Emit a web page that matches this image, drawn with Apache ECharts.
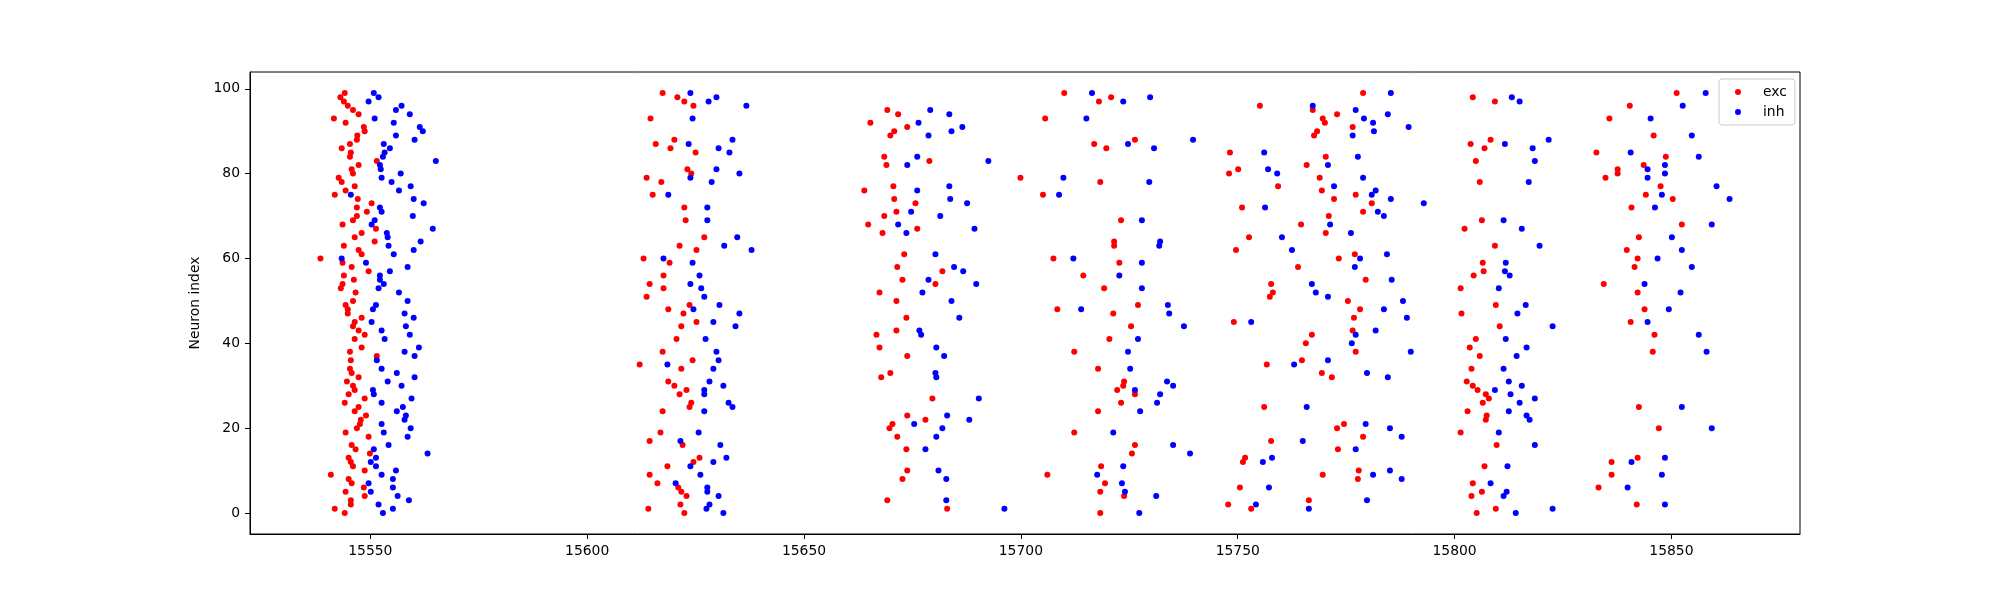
<!DOCTYPE html>
<html>
<head>
<meta charset="utf-8">
<title>raster</title>
<script src="https://cdn.jsdelivr.net/npm/echarts/dist/echarts.min.js"></script>
<style>
    html, body { margin: 0; padding: 0; background: #ffffff; }
    #raster { width: 2000px; height: 600px; }
</style>
</head>
<body>
<div id="raster"></div>
<script>
// spike times [t, neuron index], one pair of arrays per burst
var exc1 = [[15544.1,99],[15543.1,98],[15543.9,97],[15544.8,96],[15546.0,95],[15547.3,94],[15541.6,93],[15544.3,92],[15548.5,91],[15548.7,90],[15547.0,89],[15546.9,88],[15545.3,87],[15543.4,86],[15545.5,85],[15545.3,84],[15551.5,83],[15547.3,82],[15545.7,81],[15546.0,80],[15542.7,79],[15543.4,78],[15546.4,77],[15544.3,76],[15541.8,75],[15547.1,74],[15550.3,73],[15546.9,72],[15549.2,71],[15546.9,70],[15546.0,69],[15543.6,68],[15551.3,67],[15548.0,66],[15546.4,65],[15551.0,64],[15543.9,63],[15547.3,62],[15548.0,61],[15538.5,60],[15543.6,59],[15545.7,58],[15549.6,57],[15543.9,56],[15546.2,55],[15543.6,54],[15543.2,53],[15546.6,52],[15546.0,50],[15544.3,49],[15544.8,48],[15544.8,47],[15548.0,46],[15546.4,45],[15546.0,44],[15547.3,43],[15548.7,42],[15546.4,41],[15548.0,39],[15545.3,38],[15551.5,37],[15545.5,36],[15545.3,34],[15545.7,33],[15547.3,32],[15544.6,31],[15546.0,30],[15546.4,29],[15545.0,28],[15548.7,27],[15544.1,26],[15547.3,25],[15546.4,24],[15549.0,23],[15547.8,22],[15547.6,21],[15546.9,20],[15544.3,19],[15549.6,18],[15545.7,16],[15546.6,15],[15549.9,14],[15545.0,13],[15545.5,12],[15546.0,11],[15548.7,10],[15540.9,9],[15545.0,8],[15545.7,7],[15548.5,6],[15544.3,5],[15548.7,4],[15545.5,3],[15545.5,2],[15541.8,1],[15544.1,0]];
var inh1 = [[15550.8,99],[15551.9,98],[15549.6,97],[15557.2,96],[15555.9,95],[15559.1,94],[15551.0,93],[15555.4,92],[15561.4,91],[15562.1,90],[15555.9,89],[15560.2,88],[15553.1,87],[15554.5,86],[15553.3,85],[15552.9,84],[15565.1,83],[15552.2,82],[15552.4,81],[15557.0,80],[15552.6,79],[15554.9,78],[15559.3,77],[15556.6,76],[15545.5,75],[15560.0,74],[15562.3,73],[15552.2,72],[15552.6,71],[15559.8,70],[15551.0,69],[15550.3,68],[15564.4,67],[15553.8,66],[15554.0,65],[15561.6,64],[15554.2,63],[15560.0,62],[15555.4,61],[15543.4,60],[15549.0,59],[15558.6,58],[15554.5,57],[15552.2,56],[15552.2,55],[15553.1,54],[15551.9,53],[15556.6,52],[15558.6,50],[15551.3,49],[15550.6,48],[15557.9,47],[15560.0,46],[15550.3,45],[15558.2,44],[15552.6,43],[15559.1,42],[15553.3,41],[15561.2,39],[15557.9,38],[15560.2,37],[15551.5,36],[15552.6,34],[15556.1,33],[15560.2,32],[15554.0,31],[15557.2,30],[15550.6,29],[15550.8,28],[15559.5,27],[15552.6,26],[15557.5,25],[15556.1,24],[15558.2,23],[15557.9,22],[15552.6,21],[15559.3,20],[15553.1,19],[15558.6,18],[15554.2,16],[15550.8,15],[15563.2,14],[15551.3,13],[15550.1,12],[15551.3,11],[15555.9,10],[15552.6,9],[15555.2,8],[15549.6,7],[15555.2,6],[15550.1,5],[15556.3,4],[15558.9,3],[15551.9,2],[15555.2,1],[15552.9,0]];

var exc2 = [[15617.4,99],[15620.8,98],[15622.4,97],[15624.5,96],[15614.6,93],[15620.1,88],[15615.8,87],[15619.2,86],[15625.0,85],[15623.1,81],[15624.0,80],[15613.7,79],[15617.1,78],[15615.1,75],[15622.4,72],[15622.7,69],[15627.0,65],[15621.3,63],[15625.2,62],[15613.0,60],[15619.0,59],[15617.6,56],[15614.4,54],[15617.6,53],[15613.7,51],[15623.6,49],[15618.7,48],[15622.2,47],[15625.2,45],[15621.7,44],[15620.6,41],[15617.4,38],[15624.3,36],[15612.1,35],[15621.7,34],[15618.7,31],[15620.1,30],[15622.9,29],[15621.3,28],[15624.0,26],[15623.6,25],[15617.4,24],[15616.9,19],[15614.4,17],[15622.0,16],[15625.9,13],[15624.5,12],[15618.5,11],[15614.4,9],[15616.2,7],[15621.0,6],[15621.7,5],[15622.9,4],[15621.5,2],[15614.1,1],[15622.4,0]];
var inh2 = [[15623.8,99],[15629.8,98],[15628.0,97],[15636.7,96],[15624.3,93],[15633.5,88],[15623.4,87],[15630.3,86],[15632.8,85],[15629.8,81],[15635.1,80],[15623.8,79],[15628.7,78],[15618.7,75],[15627.7,72],[15627.7,69],[15634.6,65],[15631.6,63],[15637.9,62],[15617.6,60],[15624.3,59],[15625.9,56],[15623.8,54],[15626.3,53],[15627.0,51],[15630.5,49],[15624.5,48],[15635.1,47],[15629.1,45],[15634.2,44],[15627.3,41],[15629.8,38],[15630.3,36],[15618.5,35],[15629.1,34],[15628.2,31],[15631.4,30],[15627.0,29],[15627.0,28],[15632.6,26],[15633.5,25],[15627.0,24],[15625.7,19],[15621.5,17],[15630.7,16],[15632.1,13],[15629.1,12],[15623.8,11],[15626.1,9],[15620.4,7],[15627.7,6],[15627.7,5],[15630.3,4],[15628.2,2],[15627.5,1],[15631.4,0]];

var exc3 = [[15669.2,95],[15671.7,94],[15665.3,92],[15673.8,91],[15670.8,90],[15669.9,89],[15668.5,84],[15678.9,83],[15669.0,82],[15670.6,77],[15663.9,76],[15670.8,74],[15675.7,73],[15671.3,71],[15668.5,70],[15664.8,68],[15676.1,67],[15668.1,66],[15673.1,61],[15671.5,58],[15681.9,57],[15672.7,55],[15680.3,54],[15667.4,52],[15671.3,50],[15673.6,46],[15671.3,43],[15666.7,42],[15667.4,39],[15673.8,37],[15669.9,33],[15667.8,32],[15679.6,27],[15673.8,23],[15678.0,22],[15670.4,21],[15669.7,20],[15671.5,18],[15673.6,15],[15673.8,10],[15672.7,8],[15669.2,3],[15683.0,1]];
var inh3 = [[15679.1,95],[15683.5,94],[15676.4,92],[15686.5,91],[15684.0,90],[15678.7,89],[15676.1,84],[15692.5,83],[15673.8,82],[15683.5,77],[15676.1,76],[15683.7,74],[15687.6,73],[15674.7,71],[15681.4,70],[15671.7,68],[15689.3,67],[15673.6,66],[15680.3,61],[15684.6,58],[15686.7,57],[15678.7,55],[15689.7,54],[15677.3,52],[15684.0,50],[15685.8,46],[15676.6,43],[15677.0,42],[15680.5,39],[15682.3,37],[15680.3,33],[15680.5,32],[15690.3,27],[15683.0,23],[15688.1,22],[15675.4,21],[15681.9,20],[15680.5,18],[15678.0,15],[15681.0,10],[15682.8,8],[15682.8,3],[15696.2,1]];

var exc4 = [[15710.0,99],[15720.8,98],[15718.0,97],[15705.6,93],[15726.3,88],[15716.9,87],[15719.7,86],[15699.9,79],[15718.3,78],[15705.1,75],[15723.1,69],[15721.5,64],[15721.5,63],[15707.5,60],[15722.7,59],[15714.4,56],[15719.2,53],[15727.0,49],[15708.4,48],[15721.3,47],[15725.4,44],[15720.4,41],[15712.3,38],[15717.8,34],[15723.8,31],[15723.6,30],[15722.2,29],[15726.3,28],[15723.1,26],[15717.8,24],[15712.3,19],[15726.3,16],[15725.6,14],[15718.5,11],[15706.1,9],[15719.4,7],[15718.3,5],[15723.8,4],[15718.3,0]];
var inh4 = [[15716.4,99],[15729.8,98],[15723.6,97],[15715.1,93],[15739.7,88],[15724.7,87],[15730.7,86],[15709.8,79],[15729.6,78],[15708.8,75],[15727.9,69],[15732.1,64],[15731.9,63],[15712.1,60],[15727.9,59],[15722.7,56],[15727.9,53],[15733.9,49],[15713.9,48],[15734.2,47],[15737.6,44],[15727.0,41],[15724.7,38],[15725.2,34],[15733.7,31],[15735.1,30],[15726.3,29],[15732.1,28],[15731.4,26],[15727.5,24],[15721.3,19],[15735.1,16],[15739.0,14],[15723.6,11],[15717.6,9],[15723.3,7],[15724.0,5],[15731.2,4],[15727.3,0]];

var exc5 = [[15778.9,99],[15755.1,96],[15767.3,95],[15772.9,94],[15769.6,93],[15770.1,92],[15776.5,91],[15768.3,90],[15767.6,89],[15748.2,85],[15770.3,84],[15765.9,82],[15750.1,81],[15748.0,80],[15768.9,79],[15759.3,77],[15769.4,76],[15777.2,75],[15772.2,74],[15780.9,73],[15751.0,72],[15778.9,71],[15771.0,70],[15764.6,68],[15770.3,66],[15752.6,65],[15749.6,62],[15777.0,61],[15773.3,60],[15763.9,58],[15779.5,55],[15757.7,54],[15758.1,52],[15757.4,51],[15775.4,50],[15778.2,48],[15776.8,46],[15749.1,45],[15776.5,43],[15767.1,42],[15765.7,40],[15777.2,38],[15764.8,36],[15756.7,35],[15769.4,33],[15771.7,32],[15756.1,25],[15774.5,21],[15772.9,20],[15778.9,18],[15757.7,17],[15773.1,15],[15751.7,13],[15751.2,12],[15777.9,10],[15769.6,9],[15777.7,8],[15750.5,6],[15766.4,3],[15747.8,2],[15753.1,1]];
var inh5 = [[15785.3,99],[15767.3,96],[15777.2,95],[15784.6,94],[15779.1,93],[15781.2,92],[15789.4,91],[15781.4,90],[15776.5,89],[15756.1,85],[15777.7,84],[15770.8,82],[15757.0,81],[15759.1,80],[15778.9,79],[15772.2,77],[15781.8,76],[15780.9,75],[15785.3,74],[15792.9,73],[15756.3,72],[15782.3,71],[15783.7,70],[15771.3,68],[15776.1,66],[15760.2,65],[15762.5,62],[15784.4,61],[15778.2,60],[15777.0,58],[15785.5,55],[15767.1,54],[15768.0,52],[15770.8,51],[15788.1,50],[15783.7,48],[15789.0,46],[15753.1,45],[15781.8,43],[15777.2,42],[15776.3,40],[15789.9,38],[15770.8,36],[15763.0,35],[15779.8,33],[15784.6,32],[15765.9,25],[15779.5,21],[15785.1,20],[15787.8,18],[15765.0,17],[15777.2,15],[15757.9,13],[15755.8,12],[15785.1,10],[15781.2,9],[15787.8,8],[15757.2,6],[15779.8,3],[15754.2,2],[15766.4,1]];

var exc6 = [[15804.2,98],[15809.3,97],[15808.3,88],[15803.7,87],[15806.9,86],[15804.9,83],[15805.8,78],[15806.3,69],[15802.3,67],[15809.3,63],[15806.5,59],[15806.7,57],[15804.4,56],[15801.4,53],[15809.5,49],[15801.6,47],[15810.4,44],[15804.9,41],[15803.5,39],[15805.8,37],[15803.9,34],[15802.8,31],[15804.2,30],[15805.3,29],[15807.2,28],[15807.9,27],[15806.5,26],[15803.0,24],[15807.4,23],[15807.2,22],[15801.4,19],[15809.7,16],[15806.9,11],[15804.2,7],[15806.3,5],[15803.9,4],[15809.5,1],[15805.1,0]];
var inh6 = [[15813.2,98],[15815.0,97],[15821.7,88],[15811.6,87],[15818.0,86],[15818.5,83],[15817.1,78],[15811.3,69],[15815.5,67],[15819.6,63],[15811.8,59],[15811.6,57],[15812.7,56],[15810.2,53],[15816.4,49],[15814.5,47],[15822.6,44],[15811.8,41],[15816.6,39],[15814.3,37],[15811.3,34],[15812.5,31],[15815.5,30],[15809.3,29],[15812.9,28],[15818.5,27],[15815.0,26],[15812.5,24],[15816.6,23],[15817.3,22],[15810.2,19],[15818.5,16],[15812.2,11],[15808.3,7],[15812.0,5],[15811.3,4],[15822.6,1],[15814.1,0]];

var exc7 = [[15851.2,99],[15840.4,96],[15835.7,93],[15845.9,89],[15832.7,85],[15848.7,84],[15843.6,82],[15837.6,81],[15837.6,80],[15834.8,79],[15847.5,77],[15844.1,75],[15850.3,74],[15840.8,72],[15852.4,68],[15842.5,65],[15839.7,62],[15842.2,60],[15841.5,58],[15834.4,54],[15842.2,52],[15843.8,48],[15840.6,45],[15846.1,42],[15845.7,38],[15842.5,25],[15847.1,20],[15842.2,13],[15836.2,12],[15836.2,9],[15833.2,6],[15842.0,2]];
var inh7 = [[15857.9,99],[15852.6,96],[15845.2,93],[15854.7,89],[15840.6,85],[15856.3,84],[15848.5,82],[15844.5,81],[15848.5,80],[15844.5,79],[15860.4,77],[15847.8,75],[15863.4,74],[15846.2,72],[15859.3,68],[15850.1,65],[15852.4,62],[15846.8,60],[15854.7,58],[15843.8,54],[15852.1,52],[15849.4,48],[15844.5,45],[15856.3,42],[15858.1,38],[15852.4,25],[15859.3,20],[15848.5,13],[15840.8,12],[15847.8,9],[15839.9,6],[15848.5,2]];

var seriesNames = ["exc", "inh"];
var xTicks = [15550, 15600, 15650, 15700, 15750, 15800, 15850];
var yTicks = [0, 20, 40, 60, 80, 100];
var neuronRange = [0, 99];

var FONT = "DejaVu Sans";

function RasterView() {

    var excAll = [].concat(exc1, exc2, exc3, exc4, exc5, exc6, exc7);
    var inhAll = [].concat(inh1, inh2, inh3, inh4, inh5, inh6, inh7);

    // matplotlib style 5% margins
    this.axisRange = function(lo, hi) {
        var pad = (hi - lo) * 0.05;
        return [lo - pad, hi + pad];
    };

    this.draw = function() {
        var chart = echarts.init(document.getElementById('raster'), null, { renderer: 'canvas' });

        var tMin = Infinity, tMax = -Infinity;
        var all = excAll.concat(inhAll);
        for (var i = 0; i < all.length; i++) {
            if (all[i][0] < tMin) tMin = all[i][0];
            if (all[i][0] > tMax) tMax = all[i][0];
        }
        var xr = this.axisRange(tMin, tMax);
        var yr = this.axisRange(neuronRange[0], neuronRange[1]);

        var tickStyle = { show: true, inside: false, length: 5, lineStyle: { color: '#000', width: 1 } };
        var plainLabel = function(v) { return String(v); };

        var option = {
            animation: false,
            backgroundColor: '#ffffff',
            grid: {
                left: 250,
                right: 200,
                top: 72,
                bottom: 66,
                show: true,
                borderColor: '#000',
                borderWidth: 1,
                backgroundColor: 'transparent'
            },
            legend: {
                data: seriesNames,
                orient: 'vertical',
                left: 1719,
                top: 79,
                padding: [6, 8, 6, 16],
                itemWidth: 6,
                itemHeight: 14,
                itemGap: 6,
                icon: 'circle',
                backgroundColor: 'rgba(255,255,255,0.8)',
                borderColor: '#cccccc',
                borderWidth: 1,
                borderRadius: 3,
                textStyle: {
                    fontFamily: FONT,
                    fontSize: 13.9,
                    color: '#000',
                    padding: [0, 0, 0, 17]
                }
            },
            xAxis: {
                type: 'value',
                min: xr[0],
                max: xr[1],
                axisLine: { show: true, onZero: false, lineStyle: { color: '#000', width: 1 } },
                axisTick: Object.assign({ customValues: xTicks }, tickStyle),
                axisLabel: {
                    customValues: xTicks,
                    formatter: plainLabel,
                    margin: 10,
                    fontFamily: FONT,
                    fontSize: 13.9,
                    color: '#000'
                },
                splitLine: { show: false }
            },
            yAxis: {
                type: 'value',
                min: yr[0],
                max: yr[1],
                name: 'Neuron index',
                nameLocation: 'middle',
                nameGap: 36,
                nameTextStyle: { fontFamily: FONT, fontSize: 13.9, color: '#000' },
                axisLine: { show: true, onZero: false, lineStyle: { color: '#000', width: 1 } },
                axisTick: Object.assign({ customValues: yTicks }, tickStyle),
                axisLabel: {
                    customValues: yTicks,
                    formatter: plainLabel,
                    margin: 10,
                    fontFamily: FONT,
                    fontSize: 13.9,
                    color: '#000'
                },
                splitLine: { show: false }
            },
            series: [
                {
                    name: seriesNames[0],
                    type: 'scatter',
                    data: excAll,
                    symbol: 'circle',
                    symbolSize: 6,
                    itemStyle: { color: '#ff0000', opacity: 1 }
                },
                {
                    name: seriesNames[1],
                    type: 'scatter',
                    data: inhAll,
                    symbol: 'circle',
                    symbolSize: 6,
                    itemStyle: { color: '#0000ff', opacity: 1 }
                }
            ]
        };

        chart.setOption(option);
    };
}

new RasterView().draw();
</script>
</body>
</html>
